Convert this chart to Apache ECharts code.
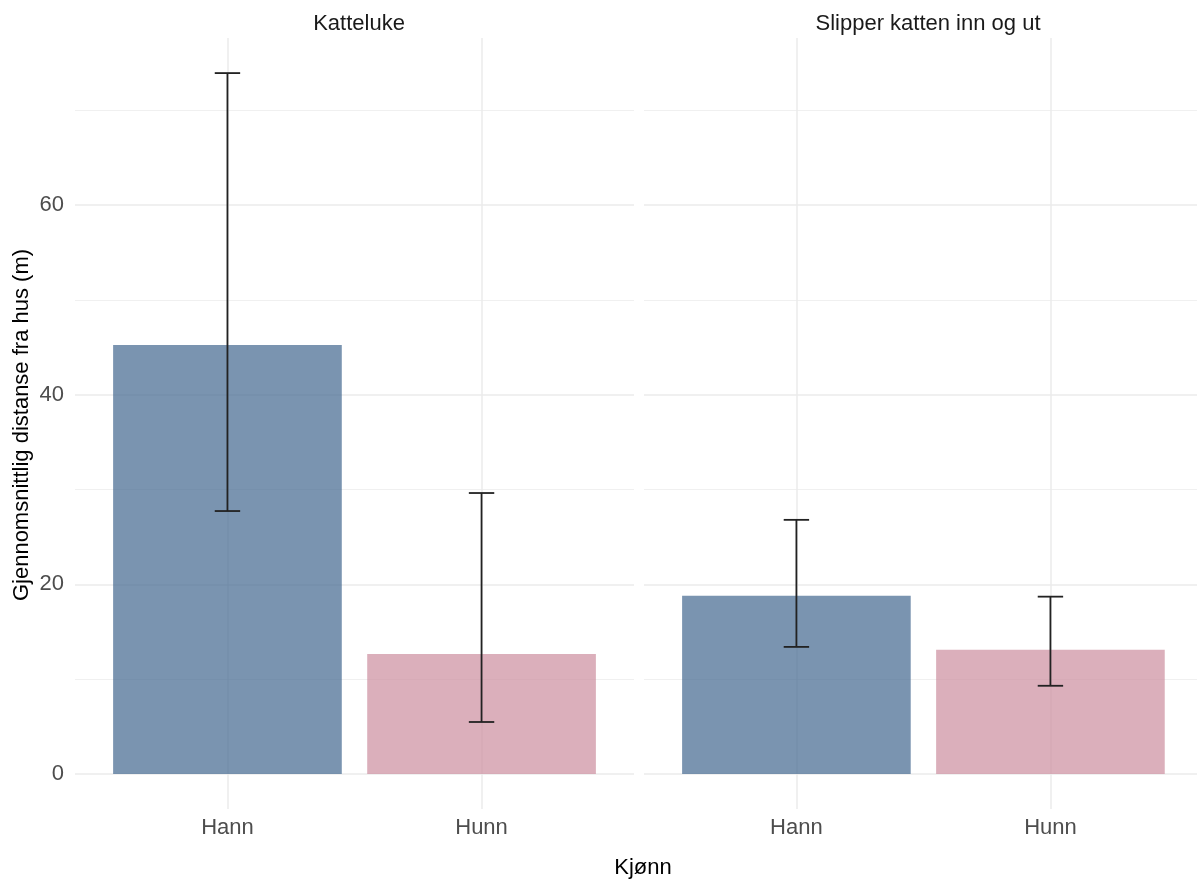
<!DOCTYPE html>
<html>
<head>
<meta charset="utf-8">
<script src="https://cdn.jsdelivr.net/npm/echarts@6/dist/echarts.min.js"></script>
<style>
html,body{margin:0;padding:0;background:#fff;}
#chart{width:1197px;height:880px;}
</style>
</head>
<body>
<div id="chart"></div>
<script>
// ---- data ----
const categories = ['Hann', 'Hunn'];
const panels = ['Katteluke', 'Slipper katten inn og ut'];
const kattelukeMean  = [45.24, 12.65];
const kattelukeLower = [27.73, 5.48];
const kattelukeUpper = [73.92, 29.63];
const slipperMean  = [18.8, 13.1];
const slipperLower = [13.4, 9.3];
const slipperUpper = [26.8, 18.7];
const yMajorTicks = [0, 20, 40, 60];
const yMinorTicks = [10, 30, 50, 70];
const xLabel = 'Kjønn';
const yLabel = 'Gjennomsnittlig distanse fra hus (m)';

const colors = ['rgba(66,103,142,0.7)', 'rgba(204,141,158,0.7)'];
const FONT = '"Liberation Sans", Arial, Helvetica, sans-serif';
const FS = 22;

const yMin = -3.696, yMax = 77.62;
// the right panel is cut by the image edge, so its x range ends earlier
const xRanges = [[0.4, 2.6], [0.4, 2.577]];

const grids = [
  {left: 75, top: 38, width: 559, height: 771},
  {left: 644, top: 38, width: 553, height: 771}
];

const xAxes = [], yAxes = [];
grids.forEach((g, i) => {
  xAxes.push({
    type: 'value', gridIndex: i, min: xRanges[i][0], max: xRanges[i][1],
    axisLine: {show: false},
    axisTick: {show: false, customValues: [1, 2]},
    axisLabel: {
      customValues: [1, 2], color: '#4d4d4d', fontSize: FS, fontFamily: FONT, margin: 8,
      formatter: v => categories[Math.round(v) - 1]
    },
    splitLine: {show: true, lineStyle: {color: '#ebebeb', width: 1.5}}
  });
  yAxes.push({
    type: 'value', gridIndex: i, min: yMin, max: yMax,
    axisLine: {show: false},
    axisTick: {show: false, customValues: yMajorTicks},
    axisLabel: {
      show: i === 0, customValues: yMajorTicks, color: '#4d4d4d', fontSize: FS, fontFamily: FONT, margin: 11
    },
    splitLine: {show: true, lineStyle: {color: '#ebebeb', width: 1.5}}
  });
});
// minor grid lines
grids.forEach((g, i) => {
  yAxes.push({
    type: 'value', gridIndex: i, min: yMin, max: yMax,
    axisLine: {show: false},
    axisTick: {show: false, customValues: yMinorTicks},
    axisLabel: {show: false, customValues: yMinorTicks},
    splitLine: {show: true, lineStyle: {color: '#f0f0f0', width: 1.2}}
  });
});

const means = [kattelukeMean, slipperMean];
const lowers = [kattelukeLower, slipperLower];
const uppers = [kattelukeUpper, slipperUpper];

const series = [];
panels.forEach((p, i) => {
  series.push({
    type: 'custom', xAxisIndex: i, yAxisIndex: i, z: 2,
    data: categories.map((c, k) => [k + 1, means[i][k], k]),
    renderItem: (params, api) => {
      const x = api.value(0), v = api.value(1), k = api.value(2);
      const p1 = api.coord([x - 0.45, v]);
      const p2 = api.coord([x + 0.45, 0]);
      return {
        type: 'rect',
        shape: {x: p1[0], y: p1[1], width: p2[0] - p1[0], height: p2[1] - p1[1]},
        style: {fill: colors[k]}
      };
    }
  });
  series.push({
    type: 'custom', xAxisIndex: i, yAxisIndex: i, z: 3,
    data: categories.map((c, k) => [k + 1, lowers[i][k], uppers[i][k]]),
    renderItem: (params, api) => {
      const x = api.value(0), lo = api.value(1), hi = api.value(2);
      const top = api.coord([x, hi]);
      const bot = api.coord([x, lo]);
      const half = api.size([0.05, 0])[0];
      const st = {stroke: '#222222', lineWidth: 1.8};
      return {
        type: 'group',
        children: [
          {type: 'line', shape: {x1: top[0], y1: top[1], x2: bot[0], y2: bot[1]}, style: st},
          {type: 'line', shape: {x1: top[0] - half, y1: top[1], x2: top[0] + half, y2: top[1]}, style: st},
          {type: 'line', shape: {x1: bot[0] - half, y1: bot[1], x2: bot[0] + half, y2: bot[1]}, style: st}
        ]
      };
    }
  });
});

const chart = echarts.init(document.getElementById('chart'), null, {renderer: 'canvas'});
chart.setOption({
  animation: false,
  backgroundColor: '#ffffff',
  textStyle: {fontFamily: FONT},
  title: [
    {text: panels[0], left: 354, top: 8, textAlign: 'center',
     textStyle: {fontSize: FS, fontWeight: 'normal', color: '#1a1a1a', fontFamily: FONT}},
    {text: panels[1], left: 923, top: 8, textAlign: 'center',
     textStyle: {fontSize: FS, fontWeight: 'normal', color: '#1a1a1a', fontFamily: FONT}},
    {text: xLabel, left: 638, top: 852, textAlign: 'center',
     textStyle: {fontSize: FS, fontWeight: 'normal', color: '#000', fontFamily: FONT}}
  ],
  graphic: [{
    type: 'text', x: 11, y: 425, rotation: Math.PI / 2,
    style: {text: yLabel, fontSize: FS, fill: '#000', fontFamily: FONT,
            textAlign: 'center', textVerticalAlign: 'top'}
  }],
  grid: grids,
  xAxis: xAxes,
  yAxis: yAxes,
  series: series
});
</script>
</body>
</html>
